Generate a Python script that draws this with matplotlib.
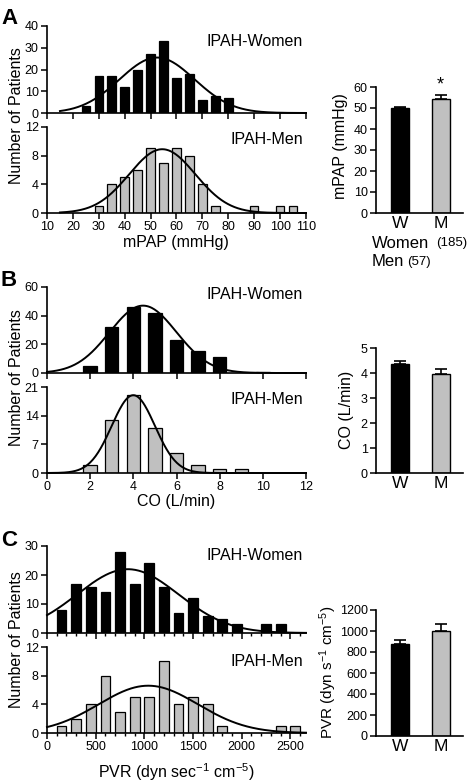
import numpy as np
import matplotlib.pyplot as plt

plt.rcParams['font.family'] = ['Liberation Sans', 'DejaVu Sans']
plt.rcParams['mathtext.default'] = 'regular'
plt.rcParams['axes.linewidth'] = 1.2

# ---- data ----
# mPAP histograms (bin centres, counts)
mpap_w_bins = [25, 30, 35, 40, 45, 50, 55, 60, 65, 70, 75, 80]
mpap_w_n = [3, 17, 17, 12, 20, 27, 33, 16, 18, 6, 8, 7]
mpap_m_bins = [30, 35, 40, 45, 50, 55, 60, 65, 70, 75, 90, 100, 105]
mpap_m_n = [1, 4, 5, 6, 9, 7, 9, 8, 4, 1, 1, 1, 1]
# fitted normal curves: mean, sd, peak height
mpap_w_fit = (52.5, 14.5, 25.5)
mpap_m_fit = (54.5, 12.8, 8.9)

# CO histograms
co_w_bins = [2, 3, 4, 5, 6, 7, 8, 10]
co_w_n = [5, 32, 46, 42, 23, 15, 11, 1]
co_m_bins = [2, 3, 4, 5, 6, 7, 8, 9]
co_m_n = [2, 13, 19, 11, 5, 2, 1, 1]
co_w_fit = (4.45, 1.55, 47)
co_m_fit = (4.0, 1.0, 19)

# PVR histograms
pvr_w_bins = [150, 300, 450, 600, 750, 900, 1050, 1200, 1350, 1500, 1650, 1800, 1950, 2250, 2400]
pvr_w_n = [8, 17, 16, 14, 28, 17, 24, 16, 7, 12, 6, 5, 3, 3, 3]
pvr_m_bins = [150, 300, 450, 600, 750, 900, 1050, 1200, 1350, 1500, 1650, 1800, 2400, 2550]
pvr_m_n = [1, 2, 4, 8, 3, 5, 5, 10, 4, 5, 4, 1, 1, 1]
pvr_w_fit = (830, 520, 22)
pvr_m_fit = (1040, 510, 6.6)

# group means with error (W, M)
groups = ['W', 'M']
mpap_mean = [49.8, 54.2]
mpap_err = [0.8, 2.2]
co_mean = [4.35, 3.98]
co_err = [0.13, 0.2]
pvr_mean = [880, 1000]
pvr_err = [38, 70]

W, H = 474, 784
fig = plt.figure(figsize=(W / 100, H / 100), dpi=100)

LAB = 11.5   # axis label / annotation size
TICK = 9


def ax_px(left, top, right, bottom):
    return fig.add_axes([left / W, 1 - bottom / H, (right - left) / W, (bottom - top) / H])


def txt(x, y, s, **kw):
    return fig.text(x / W, 1 - y / H, s, **kw)


def style(ax):
    ax.spines['top'].set_visible(False)
    ax.spines['right'].set_visible(False)
    ax.tick_params(direction='out', length=4, width=1.1, labelsize=TICK, pad=2)


def gauss(x, fit):
    mu, sd, peak = fit
    return peak * np.exp(-(x - mu) ** 2 / (2 * sd ** 2))


def hist(box, bins, n, width, color, fit, xr, xlim, xticks, yticks, labels, minor=None):
    ax = ax_px(*box)
    ax.bar(bins, n, width=width, color=color, edgecolor='black', linewidth=0.9, zorder=2)
    xs = np.linspace(xr[0], xr[1], 300)
    ax.plot(xs, gauss(xs, fit), color='black', lw=1.4, zorder=3, clip_on=False)
    ax.set_xlim(*xlim)
    ax.set_ylim(0, yticks[-1])
    ax.set_xticks(xticks)
    if minor is not None:
        ax.set_xticks(minor, minor=True)
        ax.tick_params(axis='x', which='minor', length=2.5, width=1)
    ax.set_yticks(yticks)
    style(ax)
    if not labels:
        ax.set_xticklabels([])
    return ax


def bars(box, mean, err, ylim, yticks):
    ax = ax_px(*box)
    ax.bar([0, 1], mean, width=0.45, color=['black', '#c0c0c0'], edgecolor='black', linewidth=1.0,
           yerr=[[0, 0], err], capsize=4, error_kw=dict(elinewidth=1.2, capthick=1.2))
    ax.set_xlim(-0.6, 1.55)
    ax.set_ylim(*ylim)
    ax.set_yticks(yticks)
    ax.set_xticks([0, 1])
    style(ax)
    ax.set_xticklabels(groups, fontsize=12.5)
    ax.tick_params(axis='x', length=0, pad=2)
    return ax


# ---------- panel A ----------
hist((47, 26, 306, 113), mpap_w_bins, mpap_w_n, 3.3, 'black', mpap_w_fit, (15, 110),
     (10, 110), range(10, 111, 10), [0, 10, 20, 30, 40], False)
hist((47, 127, 306, 213), mpap_m_bins, mpap_m_n, 3.3, '#c0c0c0', mpap_m_fit, (15, 110),
     (10, 110), range(10, 111, 10), [0, 4, 8, 12], True)
txt(176, 242, 'mPAP (mmHg)', ha='center', va='center', fontsize=LAB)
txt(206, 41, 'IPAH-Women', ha='left', va='center', fontsize=LAB)
txt(231, 139, 'IPAH-Men', ha='left', va='center', fontsize=LAB)
txt(17, 116, 'Number of Patients', rotation=90, ha='center', va='center', fontsize=LAB)
txt(1, 18, 'A', ha='left', va='center', fontsize=16, fontweight='bold')

axa = bars((376, 87, 463, 213), mpap_mean, mpap_err, (0, 60), range(0, 61, 10))
axa.text(1, mpap_mean[1] + mpap_err[1] + 0.5, '*', ha='center', va='bottom', fontsize=13)
txt(341, 146, 'mPAP (mmHg)', rotation=90, ha='center', va='center', fontsize=LAB)
txt(372, 243, 'Women', ha='left', va='center', fontsize=12)
txt(436, 243, '(185)', ha='left', va='center', fontsize=9.5)
txt(372, 262, 'Men', ha='left', va='center', fontsize=12)
txt(407, 262, '(57)', ha='left', va='center', fontsize=9.5)

# ---------- panel B ----------
hist((47, 287, 306, 373), co_w_bins, co_w_n, 0.62, 'black', co_w_fit, (0, 12),
     (0, 12), range(0, 13, 2), [0, 20, 40, 60], False)
hist((47, 387, 306, 473), co_m_bins, co_m_n, 0.62, '#c0c0c0', co_m_fit, (0, 12),
     (0, 12), range(0, 13, 2), [0, 7, 14, 21], True)
txt(176, 502, 'CO (L/min)', ha='center', va='center', fontsize=LAB)
txt(206, 295, 'IPAH-Women', ha='left', va='center', fontsize=LAB)
txt(231, 400, 'IPAH-Men', ha='left', va='center', fontsize=LAB)
txt(17, 378, 'Number of Patients', rotation=90, ha='center', va='center', fontsize=LAB)
txt(1, 280, 'B', ha='left', va='center', fontsize=16, fontweight='bold')

bars((376, 348, 463, 473), co_mean, co_err, (0, 5), range(0, 6))
txt(347, 410, 'CO (L/min)', rotation=90, ha='center', va='center', fontsize=LAB)

# ---------- panel C ----------
hist((47, 546, 306, 633), pvr_w_bins, pvr_w_n, 100, 'black', pvr_w_fit, (0, 2660),
     (0, 2660), range(0, 2501, 500), [0, 10, 20, 30], False, minor=range(100, 2700, 100))
hist((47, 647, 306, 733), pvr_m_bins, pvr_m_n, 100, '#c0c0c0', pvr_m_fit, (0, 2660),
     (0, 2660), range(0, 2501, 500), [0, 4, 8, 12], True, minor=range(100, 2700, 100))
txt(176, 772, 'PVR (dyn sec$^{-1}$ cm$^{-5}$)', ha='center', va='center', fontsize=LAB)
txt(206, 555, 'IPAH-Women', ha='left', va='center', fontsize=LAB)
txt(231, 661, 'IPAH-Men', ha='left', va='center', fontsize=LAB)
txt(17, 640, 'Number of Patients', rotation=90, ha='center', va='center', fontsize=LAB)
txt(1, 540, 'C', ha='left', va='center', fontsize=16, fontweight='bold')

bars((376, 610, 463, 736), pvr_mean, pvr_err, (0, 1200), range(0, 1201, 200))
txt(328, 672, 'PVR (dyn s$^{-1}$ cm$^{-5}$)', rotation=90, ha='center', va='center', fontsize=11)

fig.savefig('out.png', dpi=100)
